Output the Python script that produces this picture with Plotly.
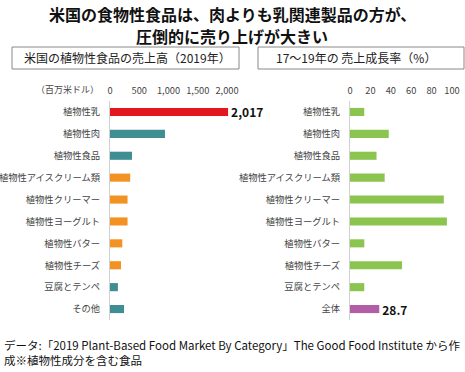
import plotly.graph_objects as go

categories = ["植物性乳", "植物性肉", "植物性食品", "植物性アイスクリーム類", "植物性クリーマー",
              "植物性ヨーグルト", "植物性バター", "植物性チーズ", "豆腐とテンペ", "その他"]
sales = [2017, 939, 376, 345, 300, 300, 210, 188, 135, 240]
sales_colors = ["#E3171E", "#3E8E93", "#3E8E93", "#F29222", "#F29222",
                "#F29222", "#F29222", "#F29222", "#3E8E93", "#3E8E93"]
growth_categories = ["植物性乳", "植物性肉", "植物性食品", "植物性アイスクリーム類", "植物性クリーマー",
                     "植物性ヨーグルト", "植物性バター", "植物性チーズ", "豆腐とテンペ", "全体"]
growth = [14, 38, 26, 34, 92, 95, 14, 51, 14, 28.7]
growth_colors = ["#8CC450"] * 9 + ["#B25EA6"]
sales_text = ["2,017"] + [""] * 9
growth_text = [""] * 9 + ["28.7"]
sales_ticks = [0, 500, 1000, 1500, 2000]
growth_ticks = [0, 20, 40, 60, 80, 100]

W, H = 465, 372
FONT = "Noto Sans CJK JP"

def px(x):
    return x / W

def py(y):
    return 1 - y / H

fig = go.Figure()
fig.add_trace(go.Bar(x=sales, y=categories, orientation="h", marker=dict(color=sales_colors, line_width=0),
                     text=sales_text, textposition="outside", cliponaxis=False, constraintext="none",
                     textfont=dict(family=FONT, size=12, color="#111", weight="bold"),
                     xaxis="x", yaxis="y", showlegend=False))
fig.add_trace(go.Bar(x=growth, y=growth_categories, orientation="h", marker=dict(color=growth_colors, line_width=0),
                     text=growth_text, textposition="outside", cliponaxis=False, constraintext="none",
                     textfont=dict(family=FONT, size=12, color="#111", weight="bold"),
                     xaxis="x2", yaxis="y2", showlegend=False))

ydom = [py(320), py(101)]
tickfont = dict(family=FONT, size=9.3, color="#444")
fig.update_layout(
    width=W, height=H, margin=dict(l=0, r=0, t=0, b=0, autoexpand=False),
    paper_bgcolor="white", plot_bgcolor="white",
    bargap=0.63, uniformtext=dict(mode=False),
    font=dict(family=FONT),
    xaxis=dict(domain=[px(110), px(230)], range=[0, 2050], side="top", tickvals=sales_ticks,
               ticktext=[f"{v:,}" for v in sales_ticks], showgrid=False, zeroline=False,
               tickfont=tickfont, ticks="", anchor="y", ticklabelstandoff=4, automargin=False),
    yaxis=dict(domain=ydom, autorange="reversed", showline=True, linecolor="#d0d0d0", linewidth=1,
               tickfont=tickfont, ticks="", anchor="x", showgrid=False, ticklabelstandoff=7,
               automargin=False),
    xaxis2=dict(domain=[px(350), px(452)], range=[0, 100], side="top", tickvals=growth_ticks,
                showgrid=False, zeroline=False, tickfont=tickfont, ticks="", anchor="y2",
                ticklabelstandoff=4, automargin=False),
    yaxis2=dict(domain=ydom, autorange="reversed", showline=True, linecolor="#d0d0d0", linewidth=1,
                tickfont=tickfont, ticks="", anchor="x2", showgrid=False, ticklabelstandoff=7,
                automargin=False),
)

fig.add_shape(type="rect", xref="paper", yref="paper", x0=px(12), x1=px(239), y0=py(69), y1=py(47),
              line=dict(color="#888", width=1))
fig.add_shape(type="rect", xref="paper", yref="paper", x0=px(258), x1=px(464), y0=py(69), y1=py(47),
              line=dict(color="#888", width=1))

ann = [
    dict(text="<b>米国の食物性食品は、肉よりも乳関連製品の方が、</b>",
         x=px(232), y=py(14), xanchor="center", yanchor="middle",
         font=dict(family=FONT, size=16, color="#111")),
    dict(text="<b>圧倒的に売り上げが大きい</b>",
         x=px(232), y=py(36), xanchor="center", yanchor="middle",
         font=dict(family=FONT, size=16, color="#111")),
    dict(text="米国の植物性食品の売上高（2019年）", x=px(127), y=py(58), xanchor="center", yanchor="middle",
         font=dict(family=FONT, size=12, color="#222")),
    dict(text="17～19年の 売上成長率（%）", x=px(356), y=py(58), xanchor="center", yanchor="middle",
         font=dict(family=FONT, size=12, color="#222")),
    dict(text="（百万米ドル）", x=px(101), y=py(89), xanchor="right", yanchor="middle",
         font=dict(family=FONT, size=9, color="#444")),
    dict(text="データ:「2019 Plant-Based Food Market By Category」The Good Food Institute から作<br>成※植物性成分を含む食品",
         x=px(2), y=py(352), xanchor="left", yanchor="middle", align="left",
         font=dict(family=FONT, size=11.5, color="#111")),
]
for a in ann:
    a.update(xref="paper", yref="paper", showarrow=False)
fig.update_layout(annotations=ann)

fig.write_html("out.html", config={"displayModeBar": False},
               post_script="document.body.style.margin='0';")
